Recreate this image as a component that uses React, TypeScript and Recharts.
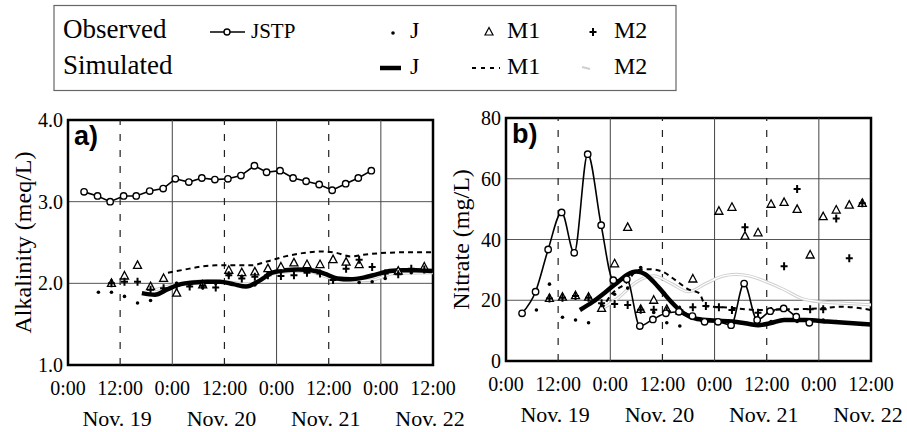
import React from 'react';
import { ComposedChart, Line, Scatter, XAxis, YAxis, CartesianGrid, ReferenceLine, ReferenceArea } from 'recharts';

// hours since Nov. 19 0:00
const hourTicks = [0, 12, 24, 36, 48, 60, 72, 84];
const dayLabels = ['Nov. 19', 'Nov. 20', 'Nov. 21', 'Nov. 22'];
const dashedHours = [12, 36, 60];
const solidHours = [24, 48, 72];

const alkTicks = [1, 2, 3, 4];
const no3Ticks = [0, 20, 40, 60, 80];

// observed, JSTP (line + open circles)
const jstpHours = [3.7, 6.8, 9.7, 12.8, 15.7, 18.8, 21.9, 24.7, 27.8, 30.8, 33.8, 36.8, 39.8, 42.9, 45.7, 48.8, 51.8, 54.8, 57.8, 60.8, 63.9, 66.8, 69.8];
const jstpAlk = [3.12, 3.07, 3.0, 3.07, 3.07, 3.13, 3.16, 3.28, 3.24, 3.29, 3.27, 3.28, 3.32, 3.44, 3.36, 3.38, 3.29, 3.25, 3.21, 3.14, 3.22, 3.29, 3.38];
const jstpNo3 = [15.7, 22.8, 36.7, 48.9, 35.6, 68.1, 44.7, 26.6, 26.9, 11.5, 13.7, 15.7, 16.2, 14.8, 12.9, 12.9, 11.8, 25.5, 13.5, 16.4, 17.3, 14.6, 12.6];

// observed samples J / M1 / M2
const sampleHours = [7, 10, 13, 16, 19, 22, 25, 28, 31, 34, 37, 40, 43, 46, 49, 52, 55, 58, 61, 64, 67, 70, 73, 76, 79, 82];
const obsJAlk = [1.89, 1.89, 1.84, 1.76, 1.79, 1.93, 2.0, 1.97, 1.95, 2.0, 2.1, 2.08, 1.98, 2.12, 2.15, 2.17, 2.17, 2.14, 2.04, 2.05, 2.01, 2.02, 2.06, 2.12, 2.13, 2.15];
const obsM1Alk = [null, 2.0, 2.09, 2.22, 1.96, 2.06, 1.88, null, 1.98, null, 2.16, 2.13, 2.14, 2.18, 2.2, 2.25, 2.23, 2.23, 2.29, 2.26, 2.23, null, null, 2.15, null, 2.2];
const obsM2Alk = [null, 2.0, 2.02, 2.02, 1.92, 1.94, 1.97, 1.96, 1.97, 1.95, 2.1, 2.06, 2.08, 2.1, 2.09, 2.1, 2.13, 2.12, 2.04, 2.18, 2.29, 2.2, 2.12, 2.11, 2.18, 2.17];
const obsJNo3 = [16.8, 25.3, 14.4, 13.5, 12.6, 18.5, 22, 24, 30.8, 16, 12.6, 11.5, 14, 13.5, 13, 13, 12.5, 12, 13, 13.5, 13, 13.5, 13.5, 13, 12.5, 12];
const obsM1No3 = [null, 20.6, 21, 21.5, 21, 17.3, 32, 44, 17, 20, 17, 16.5, 27, null, 49.3, 50.6, 41.1, 42.2, 51.6, 52.2, 49.9, 34.9, 47.5, 49.7, 51.3, 51.9];
const obsM2No3 = [null, 20.6, 20.8, 21.4, 20.8, 19, 18.8, 18.4, 16.9, 16.9, 16.5, 16.7, 17.7, 18.1, 17.7, 16.8, 44, 15.9, 16.5, 31.2, 56.6, 17, 17, 46.9, 33.8, 51.9];

// simulated
const simJAlkHours = [17, 20, 23, 26, 29, 32, 35, 38, 41, 44, 47, 50, 53, 56, 59, 62, 65, 68, 71, 74, 77, 80, 84];
const simJAlk = [1.88, 1.86, 1.93, 1.99, 2.01, 2.02, 2.02, 1.99, 1.96, 2.03, 2.13, 2.16, 2.17, 2.16, 2.12, 2.06, 2.05, 2.07, 2.11, 2.15, 2.16, 2.16, 2.15];
const simM1AlkHours = [23, 27, 30, 34, 38, 42, 46, 50, 54, 58, 62, 65, 68, 72, 78, 84];
const simM1Alk = [2.13, 2.17, 2.2, 2.22, 2.22, 2.22, 2.27, 2.33, 2.37, 2.39, 2.37, 2.33, 2.35, 2.37, 2.38, 2.38];
const simM2AlkHours = [20, 26, 32, 38, 42, 46, 50, 55, 60, 65, 70, 75, 84];
const simM2Alk = [1.92, 2.0, 2.03, 2.01, 1.99, 2.1, 2.14, 2.15, 2.07, 2.03, 2.04, 2.12, 2.13];

const simJNo3Hours = [17, 20, 23, 26, 28, 30, 32, 34, 36, 38, 41, 44, 48, 52, 56, 58, 61, 64, 69, 74, 79, 84];
const simJNo3 = [16.8, 19.5, 22.8, 26.3, 28.5, 29.5, 28.6, 26, 22.8, 19.5, 15.6, 13.8, 13.3, 13, 12.2, 11.8, 12.5, 13.5, 13.5, 13, 12.5, 12];
const simM1No3Hours = [22, 24.5, 27.5, 30.5, 33, 36, 39, 42, 44.5, 46, 50, 58, 65, 73, 77, 84];
const simM1No3 = [17, 22.3, 25.5, 30, 30.2, 29.4, 26.6, 23.6, 22.3, 18, 17.7, 16.8, 17, 17.4, 17.9, 16.8];
const simM2No3Hours = [22, 26, 30, 34, 38, 42, 46, 50, 53, 56, 60, 64, 68, 72, 78, 84];
const simM2No3 = [17, 21, 26, 28, 25.5, 22.8, 25.5, 28, 28.5, 28, 26, 23.5, 20.6, 19.5, 19, 18.5];

const zip = (hs: number[], vs: (number | null)[]) =>
  hs.map((h, i) => ({ h, v: vs[i] })).filter((d) => d.v != null);

const SERIF = "Liberation Serif, Tinos, DejaVu Serif, Noto Serif, Times, serif";
const SANS = "Liberation Sans, Arimo, Arial, sans-serif";

const DotShape = (p: any) => <circle cx={p.cx} cy={p.cy} r={1.8} fill="#000" />;
const TriShape = (p: any) => (
  <path d={`M${p.cx},${p.cy - 4.5} L${p.cx + 4},${p.cy + 3} L${p.cx - 4},${p.cy + 3} Z`} fill="#fff" stroke="#000" strokeWidth={1.3} />
);
const PlusShape = (p: any) => (
  <path d={`M${p.cx - 3.5},${p.cy} H${p.cx + 3.5} M${p.cx},${p.cy - 4} V${p.cy + 4}`} stroke="#000" strokeWidth={2} />
);

const TimeTick = ({ x, y, payload }: any) => {
  const h = payload.value;
  const noon = h % 24 === 12;
  return (
    <g>
      <text x={x} y={y + 30} textAnchor="middle" fontSize={20} fontFamily={SERIF} style={{ fontFamily: SERIF }} fill="#000">
        {noon ? '12:00' : '0:00'}
      </text>
      {noon && (
        <text x={x - 3} y={y + 61} textAnchor="middle" fontSize={22} fontFamily={SERIF} style={{ fontFamily: SERIF }} fill="#000">
          {dayLabels[(h - 12) / 24]}
        </text>
      )}
    </g>
  );
};

const jstpDot = { r: 3.2, fill: '#fff', stroke: '#000', strokeWidth: 1.4 };

function Panel(props: any) {
  const { width, height, margin, yWidth, xHeight, domain, ticks, fmt, title, titleOffset, tag, sims, obs, jstp, curve } = props;
  return (
    <ComposedChart width={width} height={height} margin={margin}>
      <CartesianGrid vertical={false} stroke="#555" strokeWidth={1} />
      {solidHours.map((h) => (
        <ReferenceLine key={'s' + h} x={h} stroke="#444" strokeWidth={1} />
      ))}
      {dashedHours.map((h) => (
        <ReferenceLine key={'d' + h} x={h} stroke="#222" strokeWidth={1.2} strokeDasharray="7 9" />
      ))}
      <XAxis
        type="number"
        dataKey="h"
        domain={[0, 84]}
        ticks={hourTicks}
        interval={0}
        axisLine={false}
        tickLine={false}
        tickSize={0}
        tickMargin={0}
        height={xHeight}
        tick={<TimeTick />}
        allowDataOverflow
      />
      <YAxis
        type="number"
        dataKey="v"
        domain={domain}
        ticks={ticks}
        interval={0}
        axisLine={false}
        tickLine={false}
        tickSize={0}
        tickMargin={5}
        width={yWidth}
        tickFormatter={fmt}
        tick={{ fontSize: 20, fill: '#000', fontFamily: SERIF, style: { fontFamily: SERIF } }}
        label={{ value: title, angle: -90, position: 'insideLeft', offset: titleOffset, style: { textAnchor: 'middle', fontSize: 24, fontFamily: SERIF, fill: '#000' } }}
        allowDataOverflow
      />
      <ReferenceArea
        x1={0}
        x2={84}
        y1={domain[0]}
        y2={domain[1]}
        fill="none"
        stroke="#000"
        strokeWidth={2.5}
        label={{ value: tag, position: 'insideTopLeft', offset: 6, style: { fontSize: 27, fontWeight: 'bold', fontFamily: SANS, fill: '#000' } }}
      />
      <Line data={sims.m2} dataKey="v" type="monotone" stroke="#cfcfcf" strokeWidth={3.2} dot={false} isAnimationActive={false} />
      <Line data={sims.m2} dataKey="v" type="monotone" stroke="#fff" strokeWidth={1.2} dot={false} isAnimationActive={false} />
      <Scatter data={obs.m1} dataKey="v" shape={TriShape} isAnimationActive={false} />
      <Scatter data={obs.m2} dataKey="v" shape={PlusShape} isAnimationActive={false} />
      <Scatter data={obs.j} dataKey="v" shape={DotShape} isAnimationActive={false} />
      <Line data={sims.m1} dataKey="v" type="monotone" stroke="#000" strokeWidth={2} strokeDasharray="5 4" dot={false} isAnimationActive={false} />
      <Line data={sims.j} dataKey="v" type="monotone" stroke="#000" strokeWidth={4.5} dot={false} isAnimationActive={false} />
      <Line data={jstp} dataKey="v" type={curve} stroke="#000" strokeWidth={1.6} dot={jstpDot} isAnimationActive={false} />
    </ComposedChart>
  );
}

function LegendBox() {
  const t = { style: { fontFamily: SERIF }, fill: '#000' };
  return (
    <svg width={907} height={100} style={{ position: 'absolute', left: 0, top: 0 }}>
      <rect x={54} y={5.5} width={622} height={85} fill="none" stroke="#666" strokeWidth={1.2} />
      <text x={63} y={38} fontSize={27} {...t}>Observed</text>
      <text x={63} y={74} fontSize={27} {...t}>Simulated</text>
      {/* row 1 */}
      <line x1={210} y1={32} x2={245} y2={32} stroke="#000" strokeWidth={1.6} />
      <circle cx={227} cy={32} r={3} fill="#fff" stroke="#000" strokeWidth={1.4} />
      <text x={251} y={38} fontSize={21} {...t}>JSTP</text>
      <circle cx={393} cy={33} r={1.8} fill="#000" />
      <text x={410} y={38} fontSize={24} {...t}>J</text>
      <path d="M489,27.5 L493,35 L485,35 Z" fill="#fff" stroke="#000" strokeWidth={1.2} />
      <text x={507} y={38} fontSize={24} {...t}>M1</text>
      <path d="M589.5,32 H596.5 M593,28 V36" stroke="#000" strokeWidth={2} />
      <text x={614} y={38} fontSize={24} {...t}>M2</text>
      {/* row 2 */}
      <line x1={380} y1={68} x2={401} y2={68} stroke="#000" strokeWidth={4.5} />
      <text x={410} y={74} fontSize={24} {...t}>J</text>
      <line x1={472} y1={68} x2={500} y2={68} stroke="#000" strokeWidth={2} strokeDasharray="4 5" />
      <text x={507} y={74} fontSize={24} {...t}>M1</text>
      <line x1={582} y1={67} x2={590} y2={69} stroke="#cfcfcf" strokeWidth={2} />
      <text x={614} y={74} fontSize={24} {...t}>M2</text>
    </svg>
  );
}

export default function App() {
  const simsA = { j: zip(simJAlkHours, simJAlk), m1: zip(simM1AlkHours, simM1Alk), m2: zip(simM2AlkHours, simM2Alk) };
  const obsA = { j: zip(sampleHours, obsJAlk), m1: zip(sampleHours, obsM1Alk), m2: zip(sampleHours, obsM2Alk) };
  const simsB = { j: zip(simJNo3Hours, simJNo3), m1: zip(simM1No3Hours, simM1No3), m2: zip(simM2No3Hours, simM2No3) };
  const obsB = { j: zip(sampleHours, obsJNo3), m1: zip(sampleHours, obsM1No3), m2: zip(sampleHours, obsM2No3) };

  return (
    <div style={{ position: 'absolute', left: 0, top: 0, width: 907, height: 432, background: '#fff', fontFamily: SERIF }}>
      <LegendBox />
      <div style={{ position: 'absolute', left: 0, top: 0 }}>
        <Panel
          width={475}
          height={432}
          margin={{ top: 120, right: 42, bottom: 0, left: 0 }}
          yWidth={68}
          xHeight={67}
          domain={[1, 4]}
          ticks={alkTicks}
          fmt={(v: number) => v.toFixed(1)}
          title="Alkalinity (meq/L)"
          titleOffset={22}
          tag="a)"
          sims={simsA}
          obs={obsA}
          jstp={zip(jstpHours, jstpAlk)}
          curve="linear"
        />
      </div>
      <div style={{ position: 'absolute', left: 440, top: 0 }}>
        <Panel
          width={467}
          height={432}
          margin={{ top: 118, right: 36, bottom: 0, left: 0 }}
          yWidth={66}
          xHeight={71}
          domain={[0, 80]}
          ticks={no3Ticks}
          fmt={(v: number) => String(v)}
          title="Nitrate (mg/L)"
          titleOffset={20}
          tag="b)"
          sims={simsB}
          obs={obsB}
          jstp={zip(jstpHours, jstpNo3)}
          curve="monotone"
        />
      </div>
    </div>
  );
}
